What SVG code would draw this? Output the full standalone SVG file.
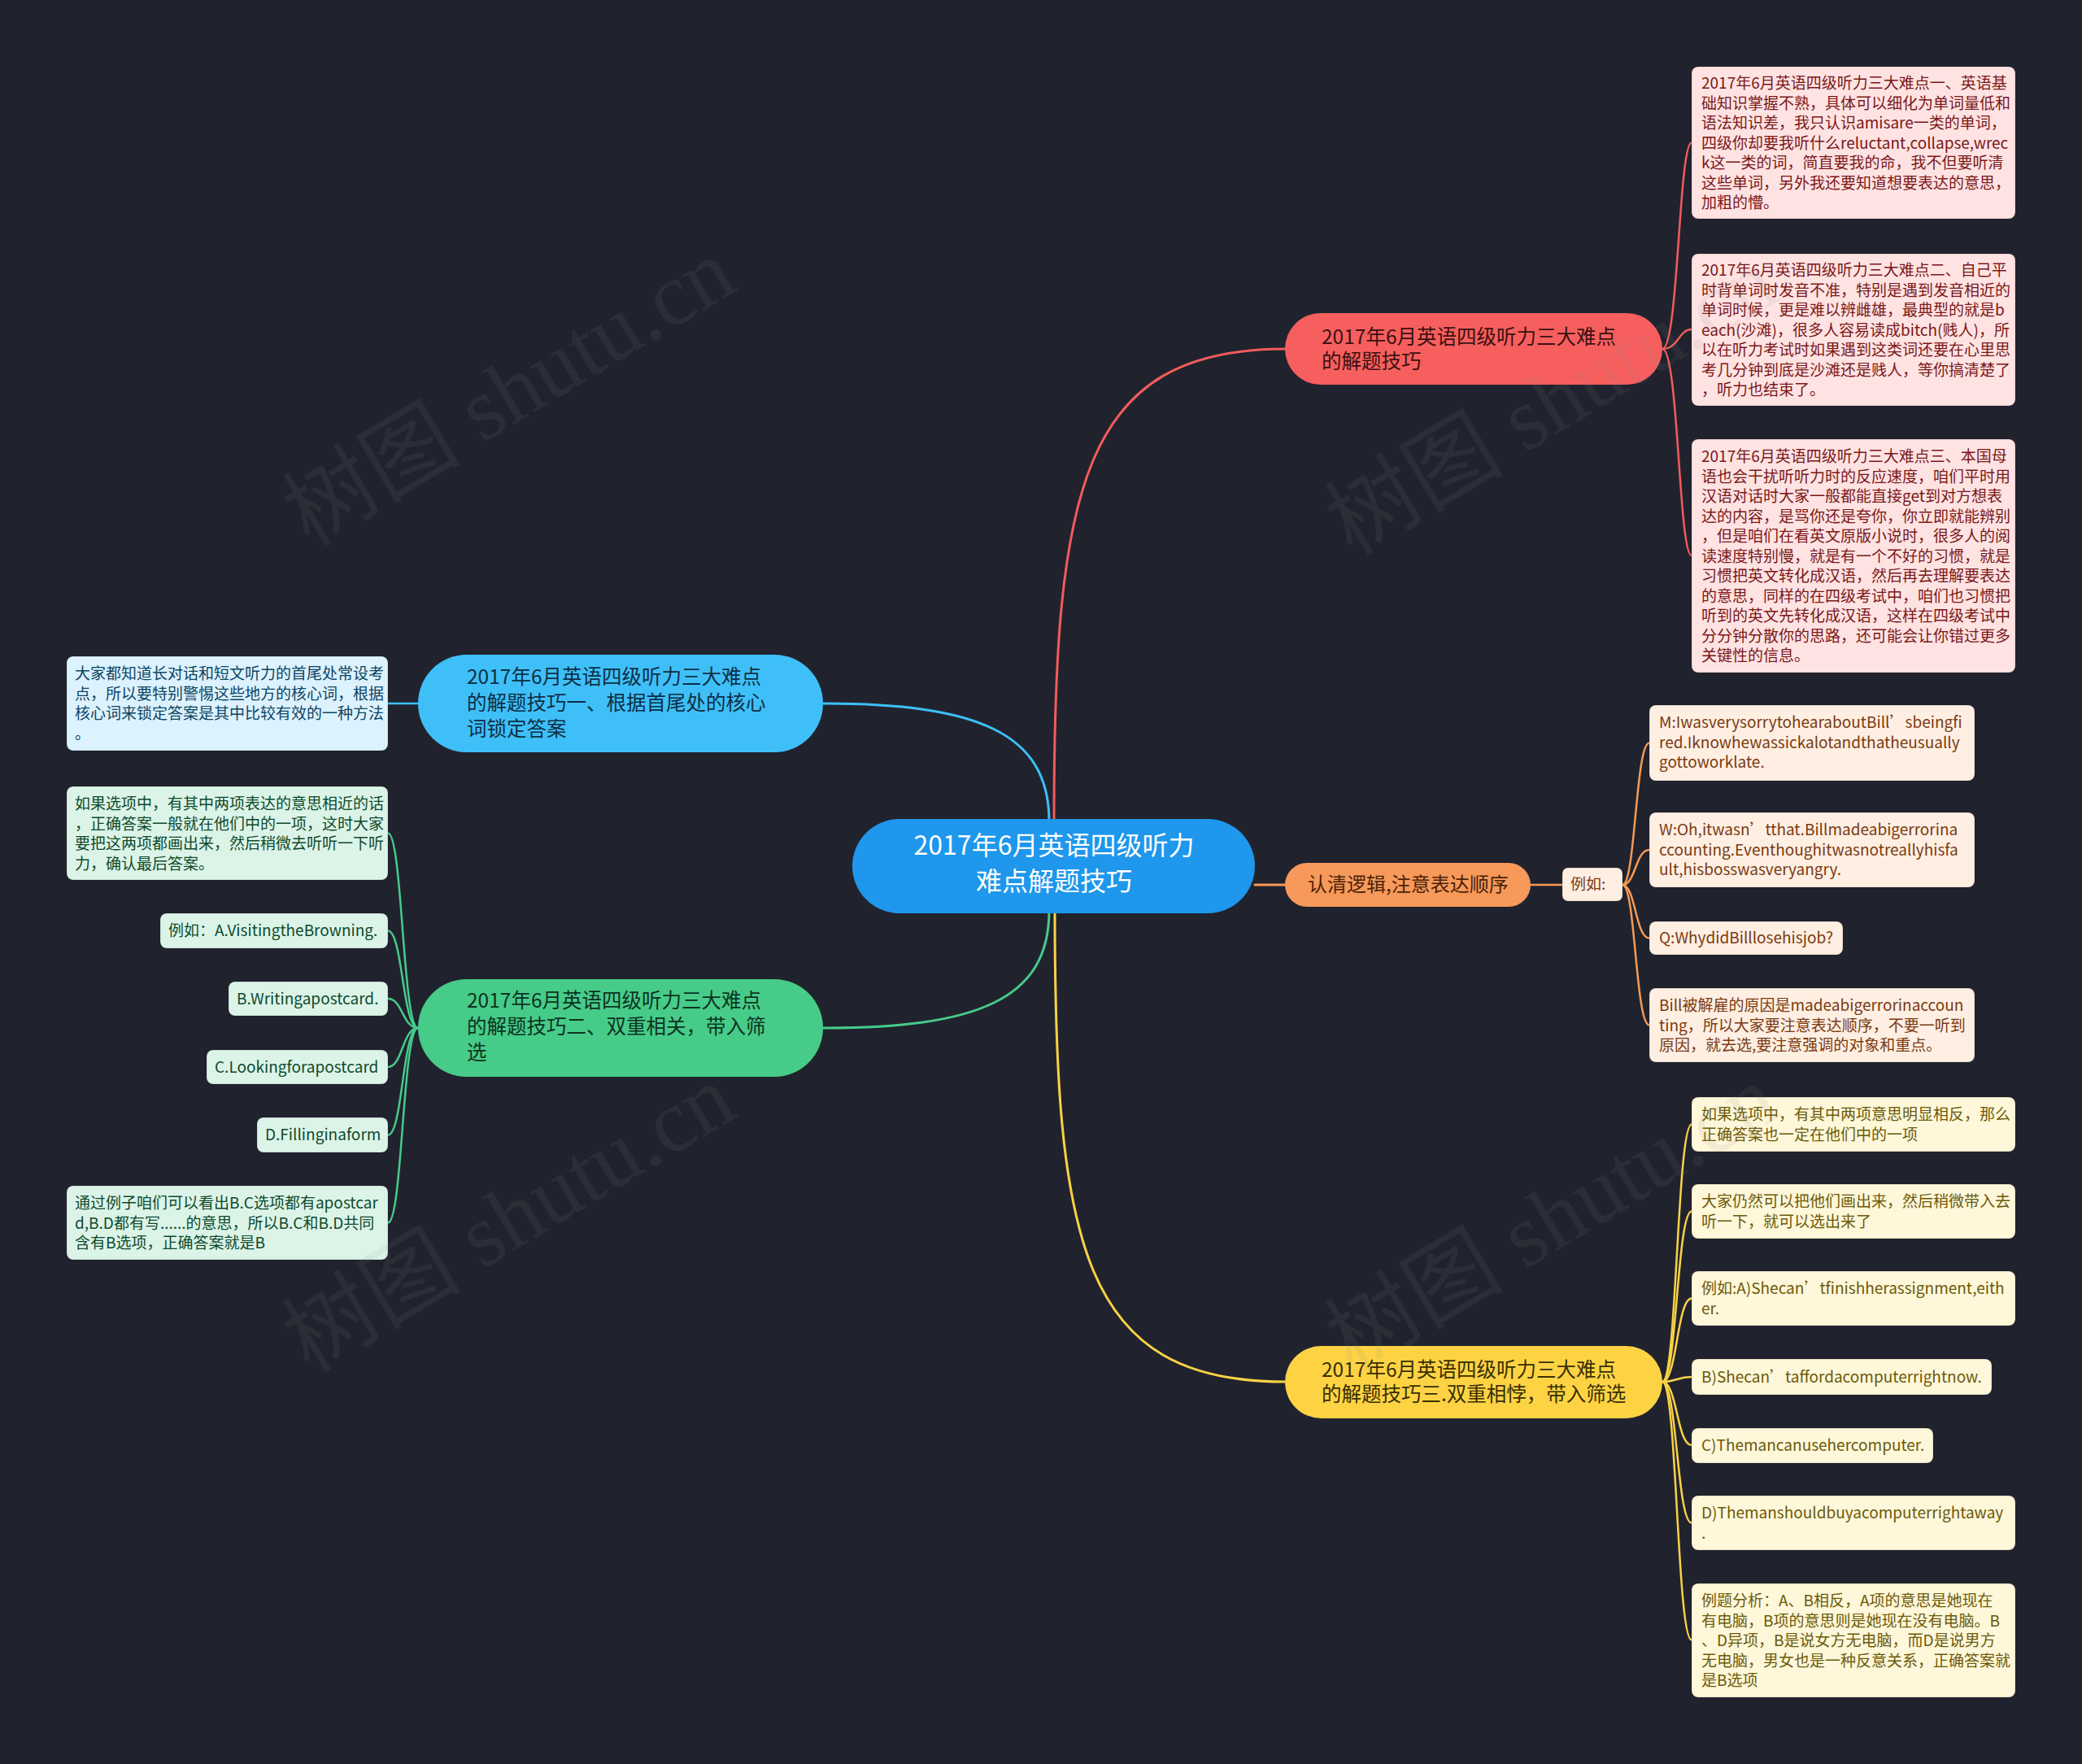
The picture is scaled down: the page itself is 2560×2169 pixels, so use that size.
<svg xmlns="http://www.w3.org/2000/svg" width="2560" height="2169" viewBox="0 0 2560 2169">
<defs>
<style>
text{font-family:"Noto Sans CJK SC","Noto Sans",sans-serif;}
.conn{fill:none;stroke-linecap:round;}
.main{stroke-width:3;}
.br{stroke-width:2.5;}
.box{stroke:rgba(0,0,0,0.18);stroke-width:1;}
.small{font-size:19px;}
.mid{font-size:24.5px;}
.pink{fill:#ffe3e3;} .pinkt{fill:#7b1717;}
.org{fill:#ffefe3;} .orgt{fill:#7a3a10;}
.yel{fill:#fff7da;} .yelt{fill:#6b5a08;}
.blu{fill:#dcf2fe;} .blut{fill:#0d4563;}
.grn{fill:#dcf4e8;} .grnt{fill:#0e4a2c;}
.wm{font-family:"Liberation Serif","Noto Sans CJK SC",serif;font-size:110px;fill:#8a8a8a;opacity:0.1;}
</style>
</defs>
<rect x="0" y="0" width="2560" height="2169" fill="#20232e"/>

<g id="connectors">
<path class="conn main" stroke="#f25c5c" d="M1296,1010 C1296,600 1330,429 1580,429"/>
<path class="conn main" stroke="#3fbff8" d="M1290,1010 C1290,900 1200,865 1012,865"/>
<path class="conn main" stroke="#46cb8a" d="M1290,1120 C1290,1230 1200,1264 1012,1264"/>
<path class="conn main" stroke="#fbd244" d="M1297,1120 C1297,1530 1330,1699 1580,1699"/>
<path class="conn main" stroke="#f79a55" d="M1543,1088 L1580,1088"/>

<path class="conn br" stroke="#f25c5c" d="M2044,429 C2064,429 2064,175.5 2080,175.5"/>
<path class="conn br" stroke="#f25c5c" d="M2044,429 C2064,429 2064,405 2080,405"/>
<path class="conn br" stroke="#f25c5c" d="M2044,429 C2064,429 2064,683 2080,683"/>

<path class="conn br" stroke="#f79a55" d="M1882,1088 L1921,1088"/>
<path class="conn br" stroke="#f79a55" d="M1995,1088 C2011,1088 2011,913.5 2028,913.5"/>
<path class="conn br" stroke="#f79a55" d="M1995,1088 C2011,1088 2011,1045 2028,1045"/>
<path class="conn br" stroke="#f79a55" d="M1995,1088 C2011,1088 2011,1153.5 2028,1153.5"/>
<path class="conn br" stroke="#f79a55" d="M1995,1088 C2011,1088 2011,1260.5 2028,1260.5"/>

<path class="conn br" stroke="#fbd244" d="M2044,1699 C2062,1699 2062,1382.5 2080,1382.5"/>
<path class="conn br" stroke="#fbd244" d="M2044,1699 C2062,1699 2062,1489.5 2080,1489.5"/>
<path class="conn br" stroke="#fbd244" d="M2044,1699 C2062,1699 2062,1596.5 2080,1596.5"/>
<path class="conn br" stroke="#fbd244" d="M2044,1699 C2062,1699 2062,1693 2080,1693"/>
<path class="conn br" stroke="#fbd244" d="M2044,1699 C2062,1699 2062,1777 2080,1777"/>
<path class="conn br" stroke="#fbd244" d="M2044,1699 C2062,1699 2062,1872.5 2080,1872.5"/>
<path class="conn br" stroke="#fbd244" d="M2044,1699 C2062,1699 2062,2016.5 2080,2016.5"/>

<path class="conn br" stroke="#3fbff8" d="M514,865 L477,865"/>

<path class="conn br" stroke="#46cb8a" d="M514,1264 C495,1264 495,1024.5 477,1024.5"/>
<path class="conn br" stroke="#46cb8a" d="M514,1264 C495,1264 495,1144.5 477,1144.5"/>
<path class="conn br" stroke="#46cb8a" d="M514,1264 C495,1264 495,1228 477,1228"/>
<path class="conn br" stroke="#46cb8a" d="M514,1264 C495,1264 495,1312 477,1312"/>
<path class="conn br" stroke="#46cb8a" d="M514,1264 C495,1264 495,1395.5 477,1395.5"/>
<path class="conn br" stroke="#46cb8a" d="M514,1264 C495,1264 495,1503.5 477,1503.5"/>
</g>

<g id="node-root">
<rect x="1048" y="1007" width="495" height="116" rx="58" fill="#1e97ec"/>
<text x="1296" y="1051" font-size="32" fill="#ffffff" text-anchor="middle">2017年6月英语四级听力</text>
<text x="1296" y="1095" font-size="32" fill="#ffffff" text-anchor="middle">难点解题技巧</text>
</g>

<g id="node-red">
<rect x="1580" y="385" width="464" height="88" rx="44" fill="#f65f5e"/>
<text class="mid" fill="#3d1010"><tspan x="1625" y="423">2017年6月英语四级听力三大难点</tspan><tspan x="1625" y="453">的解题技巧</tspan></text>
</g>

<g id="node-orange">
<rect x="1580" y="1061" width="302" height="54" rx="27" fill="#f7995a"/>
<text x="1608" y="1096" font-size="24" fill="#4a2208">认清逻辑,注意表达顺序</text>
</g>

<g id="node-liru">
<rect class="box org" x="1921" y="1067" width="74" height="41" rx="7"/>
<text class="small orgt" x="1931" y="1094">例如:</text>
</g>

<g id="node-yellow">
<rect x="1580" y="1655" width="464" height="89" rx="44.5" fill="#fdd344"/>
<text class="mid" fill="#3a2e00"><tspan x="1625" y="1693">2017年6月英语四级听力三大难点</tspan><tspan x="1625" y="1723">的解题技巧三.双重相悖，带入筛选</tspan></text>
</g>

<g id="node-blue">
<rect x="514" y="805" width="498" height="120" rx="60" fill="#3fbff8"/>
<text class="mid" fill="#0c2f45"><tspan x="574" y="841">2017年6月英语四级听力三大难点</tspan><tspan x="574" y="873">的解题技巧一、根据首尾处的核心</tspan><tspan x="574" y="905">词锁定答案</tspan></text>
</g>

<g id="node-green">
<rect x="514" y="1204" width="498" height="120" rx="60" fill="#47cb89"/>
<text class="mid" fill="#0b3320"><tspan x="574" y="1239">2017年6月英语四级听力三大难点</tspan><tspan x="574" y="1271">的解题技巧二、双重相关，带入筛</tspan><tspan x="574" y="1303">选</tspan></text>
</g>

<g id="box-red-1">
<rect class="box pink" x="2080" y="82" width="398" height="187" rx="8"/>
<text class="small pinkt"><tspan x="2092" y="109">2017年6月英语四级听力三大难点一、英语基</tspan><tspan x="2092" y="133.5">础知识掌握不熟，具体可以细化为单词量低和</tspan><tspan x="2092" y="158">语法知识差，我只认识amisare一类的单词，</tspan><tspan x="2092" y="182.5">四级你却要我听什么reluctant,collapse,wrec</tspan><tspan x="2092" y="207">k这一类的词，简直要我的命，我不但要听清</tspan><tspan x="2092" y="231.5">这些单词，另外我还要知道想要表达的意思，</tspan><tspan x="2092" y="256">加粗的懵。</tspan></text>
</g>

<g id="box-red-2">
<rect class="box pink" x="2080" y="312" width="398" height="187" rx="8"/>
<text class="small pinkt"><tspan x="2092" y="339">2017年6月英语四级听力三大难点二、自己平</tspan><tspan x="2092" y="363.5">时背单词时发音不准，特别是遇到发音相近的</tspan><tspan x="2092" y="388">单词时候，更是难以辨雌雄，最典型的就是b</tspan><tspan x="2092" y="412.5">each(沙滩)，很多人容易读成bitch(贱人)，所</tspan><tspan x="2092" y="437">以在听力考试时如果遇到这类词还要在心里思</tspan><tspan x="2092" y="461.5">考几分钟到底是沙滩还是贱人，等你搞清楚了</tspan><tspan x="2092" y="486">，听力也结束了。</tspan></text>
</g>

<g id="box-red-3">
<rect class="box pink" x="2080" y="540" width="398" height="287" rx="8"/>
<text class="small pinkt"><tspan x="2092" y="568">2017年6月英语四级听力三大难点三、本国母</tspan><tspan x="2092" y="592.5">语也会干扰听听力时的反应速度，咱们平时用</tspan><tspan x="2092" y="617">汉语对话时大家一般都能直接get到对方想表</tspan><tspan x="2092" y="641.5">达的内容，是骂你还是夸你，你立即就能辨别</tspan><tspan x="2092" y="666">，但是咱们在看英文原版小说时，很多人的阅</tspan><tspan x="2092" y="690.5">读速度特别慢，就是有一个不好的习惯，就是</tspan><tspan x="2092" y="715">习惯把英文转化成汉语，然后再去理解要表达</tspan><tspan x="2092" y="739.5">的意思，同样的在四级考试中，咱们也习惯把</tspan><tspan x="2092" y="764">听到的英文先转化成汉语，这样在四级考试中</tspan><tspan x="2092" y="788.5">分分钟分散你的思路，还可能会让你错过更多</tspan><tspan x="2092" y="813">关键性的信息。</tspan></text>
</g>

<g id="box-orange-1">
<rect class="box org" x="2028" y="867" width="400" height="93" rx="8"/>
<text class="small orgt"><tspan x="2040" y="895">M:IwasverysorrytohearaboutBill’sbeingfi</tspan><tspan x="2040" y="919.5">red.Iknowhewassickalotandthatheusually</tspan><tspan x="2040" y="944">gottoworklate.</tspan></text>
</g>

<g id="box-orange-2">
<rect class="box org" x="2028" y="999" width="400" height="92" rx="8"/>
<text class="small orgt"><tspan x="2040" y="1027">W:Oh,itwasn’tthat.Billmadeabigerrorina</tspan><tspan x="2040" y="1051.5">ccounting.Eventhoughitwasnotreallyhisfa</tspan><tspan x="2040" y="1076">ult,hisbosswasveryangry.</tspan></text>
</g>

<g id="box-orange-3">
<rect class="box org" x="2028" y="1133" width="238" height="41" rx="8"/>
<text class="small orgt" x="2040" y="1160">Q:WhydidBilllosehisjob?</text>
</g>

<g id="box-orange-4">
<rect class="box org" x="2028" y="1215" width="400" height="91" rx="8"/>
<text class="small orgt"><tspan x="2040" y="1243">Bill被解雇的原因是madeabigerrorinaccoun</tspan><tspan x="2040" y="1267.5">ting，所以大家要注意表达顺序，不要一听到</tspan><tspan x="2040" y="1292">原因，就去选,要注意强调的对象和重点。</tspan></text>
</g>

<g id="box-yellow-1">
<rect class="box yel" x="2080" y="1349" width="398" height="67" rx="8"/>
<text class="small yelt"><tspan x="2092" y="1377">如果选项中，有其中两项意思明显相反，那么</tspan><tspan x="2092" y="1401.5">正确答案也一定在他们中的一项</tspan></text>
</g>

<g id="box-yellow-2">
<rect class="box yel" x="2080" y="1456" width="398" height="67" rx="8"/>
<text class="small yelt"><tspan x="2092" y="1484">大家仍然可以把他们画出来，然后稍微带入去</tspan><tspan x="2092" y="1508.5">听一下，就可以选出来了</tspan></text>
</g>

<g id="box-yellow-3">
<rect class="box yel" x="2080" y="1563" width="398" height="67" rx="8"/>
<text class="small yelt"><tspan x="2092" y="1591">例如:A)Shecan’tfinishherassignment,eith</tspan><tspan x="2092" y="1615.5">er.</tspan></text>
</g>

<g id="box-yellow-4">
<rect class="box yel" x="2080" y="1671" width="369" height="44" rx="8"/>
<text class="small yelt" x="2092" y="1700">B)Shecan’taffordacomputerrightnow.</text>
</g>

<g id="box-yellow-5">
<rect class="box yel" x="2080" y="1756" width="297" height="43" rx="8"/>
<text class="small yelt" x="2092" y="1784">C)Themancanusehercomputer.</text>
</g>

<g id="box-yellow-6">
<rect class="box yel" x="2080" y="1839" width="398" height="67" rx="8"/>
<text class="small yelt"><tspan x="2092" y="1867">D)Themanshouldbuyacomputerrightaway</tspan><tspan x="2092" y="1891.5">.</tspan></text>
</g>

<g id="box-yellow-7">
<rect class="box yel" x="2080" y="1947" width="398" height="140" rx="8"/>
<text class="small yelt"><tspan x="2092" y="1975">例题分析：A、B相反，A项的意思是她现在</tspan><tspan x="2092" y="1999.5">有电脑，B项的意思则是她现在没有电脑。B</tspan><tspan x="2092" y="2024">、D异项，B是说女方无电脑，而D是说男方</tspan><tspan x="2092" y="2048.5">无电脑，男女也是一种反意关系，正确答案就</tspan><tspan x="2092" y="2073">是B选项</tspan></text>
</g>

<g id="box-blue-1">
<rect class="box blu" x="82" y="807" width="395" height="116" rx="8"/>
<text class="small blut"><tspan x="92" y="835">大家都知道长对话和短文听力的首尾处常设考</tspan><tspan x="92" y="859.5">点，所以要特别警惕这些地方的核心词，根据</tspan><tspan x="92" y="884">核心词来锁定答案是其中比较有效的一种方法</tspan><tspan x="92" y="908.5">。</tspan></text>
</g>

<g id="box-green-1">
<rect class="box grn" x="82" y="967" width="395" height="115" rx="8"/>
<text class="small grnt"><tspan x="92" y="995">如果选项中，有其中两项表达的意思相近的话</tspan><tspan x="92" y="1019.5">，正确答案一般就在他们中的一项，这时大家</tspan><tspan x="92" y="1044">要把这两项都画出来，然后稍微去听听一下听</tspan><tspan x="92" y="1068.5">力，确认最后答案。</tspan></text>
</g>

<g id="box-green-2">
<rect class="box grn" x="197" y="1123" width="280" height="43" rx="8"/>
<text class="small grnt" x="207" y="1151">例如：A.VisitingtheBrowning.</text>
</g>

<g id="box-green-3">
<rect class="box grn" x="281" y="1207" width="196" height="42" rx="8"/>
<text class="small grnt" x="291" y="1235">B.Writingapostcard.</text>
</g>

<g id="box-green-4">
<rect class="box grn" x="254" y="1291" width="223" height="42" rx="8"/>
<text class="small grnt" x="264" y="1319">C.Lookingforapostcard</text>
</g>

<g id="box-green-5">
<rect class="box grn" x="316" y="1374" width="161" height="43" rx="8"/>
<text class="small grnt" x="326" y="1402">D.Fillinginaform</text>
</g>

<g id="box-green-6">
<rect class="box grn" x="82" y="1458" width="395" height="91" rx="8"/>
<text class="small grnt"><tspan x="92" y="1486">通过例子咱们可以看出B.C选项都有apostcar</tspan><tspan x="92" y="1510.5">d,B.D都有写......的意思，所以B.C和B.D共同</tspan><tspan x="92" y="1535">含有B选项，正确答案就是B</tspan></text>
</g>

<g id="watermarks">
<text class="wm" transform="translate(645,514) rotate(-31)" text-anchor="middle">树图 shutu.cn</text>
<text class="wm" transform="translate(1927,526) rotate(-31)" text-anchor="middle">树图 shutu.cn</text>
<text class="wm" transform="translate(645,1530) rotate(-31)" text-anchor="middle">树图 shutu.cn</text>
<text class="wm" transform="translate(1927,1530) rotate(-31)" text-anchor="middle">树图 shutu.cn</text>
</g>
</svg>
